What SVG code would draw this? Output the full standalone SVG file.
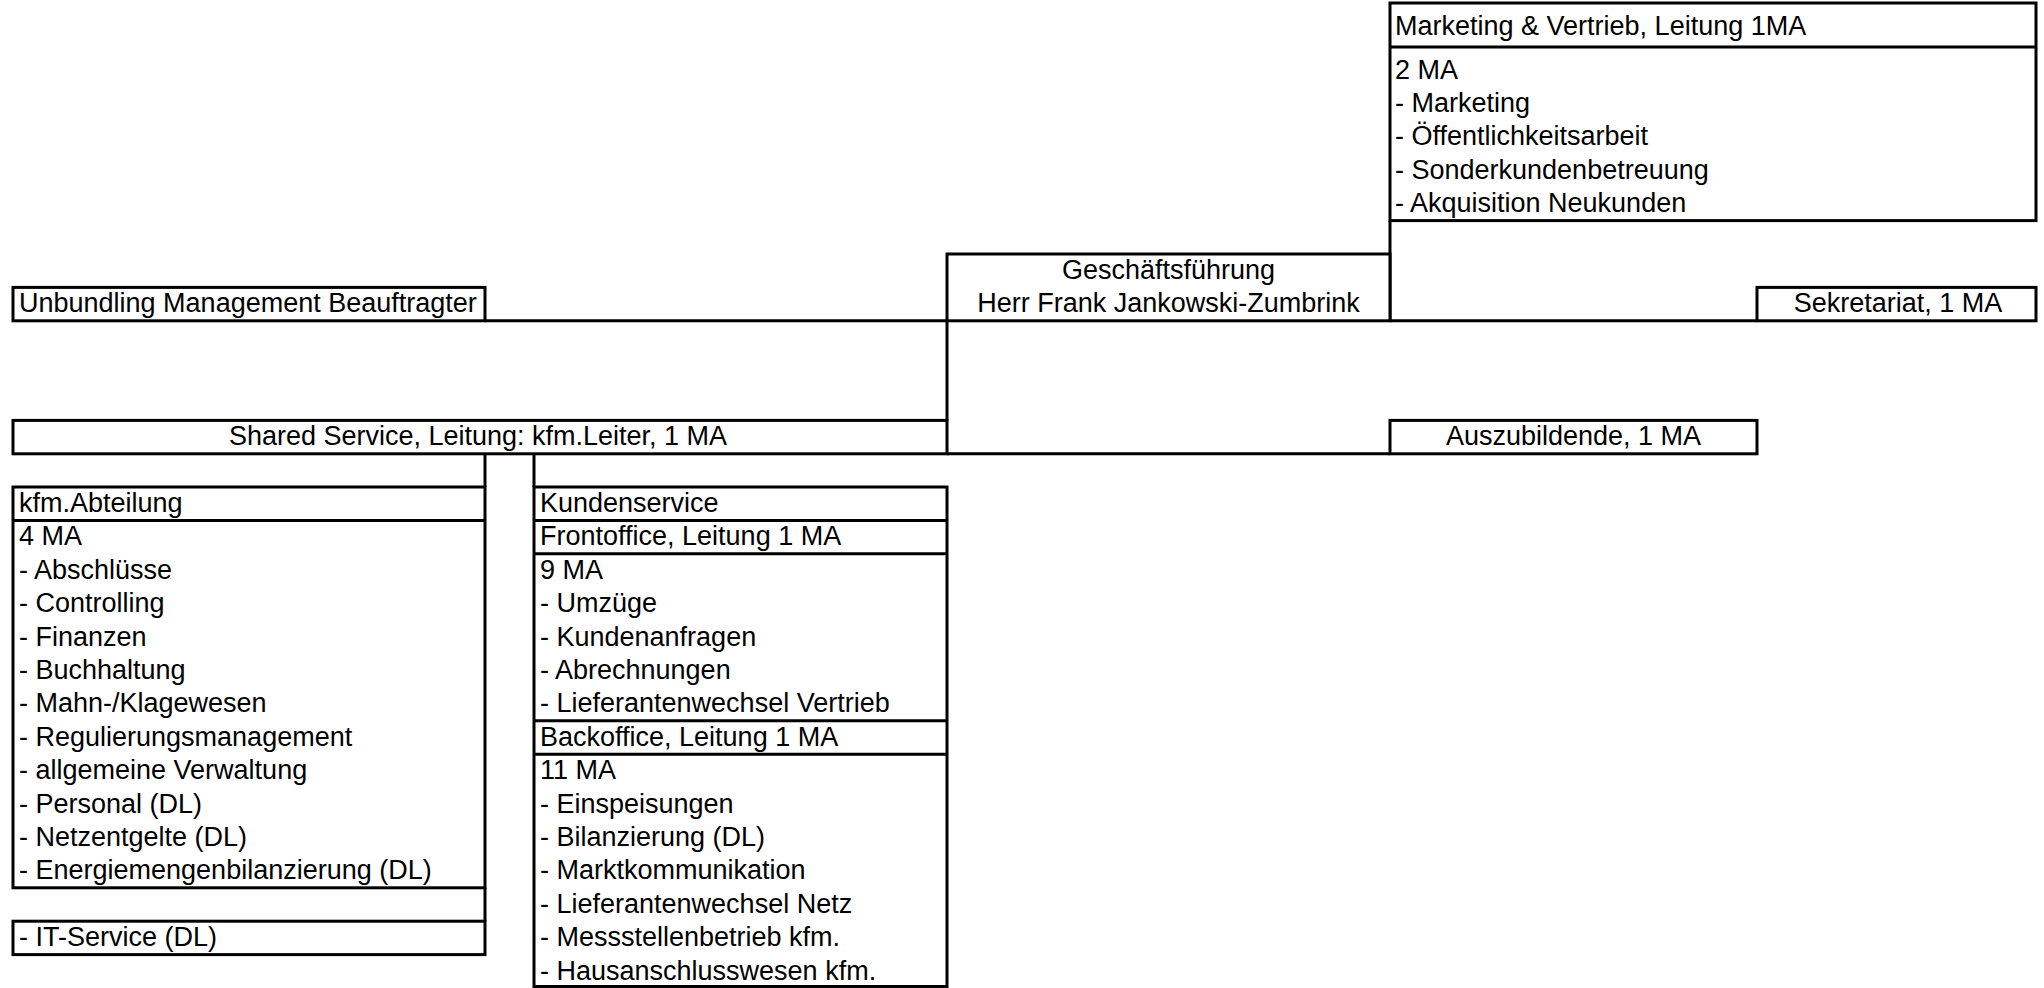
<svg xmlns="http://www.w3.org/2000/svg" width="2044" height="988" viewBox="0 0 2044 988">
<style>
rect.box{fill:#fff;stroke:#000;stroke-width:3}
line.sep{stroke:#000;stroke-width:3}
#connectors line{stroke:#000;stroke-width:3}
text{font-family:"Liberation Sans",Arial,sans-serif;font-size:27px;fill:#000}
text.c{text-anchor:middle}
</style>
<rect width="2044" height="988" fill="#fff"/>
<g id="connectors">
<line x1="485" y1="320.8" x2="947" y2="320.8"/>
<line x1="1390" y1="320.8" x2="1757" y2="320.8"/>
<line x1="947" y1="320.8" x2="947" y2="420.4"/>
<line x1="1390" y1="220.6" x2="1390" y2="320.8"/>
<line x1="947" y1="453.8" x2="1390" y2="453.8"/>
<line x1="485" y1="453.8" x2="485" y2="487"/>
<line x1="534" y1="453.8" x2="534" y2="487"/>
<line x1="485" y1="887.8" x2="485" y2="921.2"/>
</g>
<g id="marketing">
<rect class="box" x="1390" y="3" width="646" height="217.6"/>
<line class="sep" x1="1390" y1="47" x2="2036" y2="47"/>
<text x="1395" y="35">Marketing &amp; Vertrieb, Leitung 1MA</text>
<text x="1395" y="78.6">2 MA</text>
<text x="1395" y="112">- Marketing</text>
<text x="1395" y="145.4">- Öffentlichkeitsarbeit</text>
<text x="1395" y="178.8">- Sonderkundenbetreuung</text>
<text x="1395" y="212.2">- Akquisition Neukunden</text>
</g>
<g id="geschaeftsfuehrung">
<rect class="box" x="947" y="254" width="443" height="66.8"/>
<text class="c" x="1168.5" y="279">Geschäftsführung</text>
<text class="c" x="1168.5" y="312.4">Herr Frank Jankowski-Zumbrink</text>
</g>
<g id="unbundling">
<rect class="box" x="13" y="287.4" width="472" height="33.4"/>
<text x="19" y="312.4">Unbundling Management Beauftragter</text>
</g>
<g id="sekretariat">
<rect class="box" x="1757" y="287.4" width="279" height="33.4"/>
<text class="c" x="1898" y="312.4">Sekretariat, 1 MA</text>
</g>
<g id="shared-service">
<rect class="box" x="13" y="420.4" width="934" height="33.4"/>
<text class="c" x="478" y="445.4">Shared Service, Leitung: kfm.Leiter, 1 MA</text>
</g>
<g id="auszubildende">
<rect class="box" x="1390" y="420.4" width="367" height="33.4"/>
<text class="c" x="1573.5" y="445.4">Auszubildende, 1 MA</text>
</g>
<g id="kfm-abteilung">
<rect class="box" x="13" y="487" width="472" height="400.8"/>
<line class="sep" x1="13" y1="520.4" x2="485" y2="520.4"/>
<text x="19" y="512">kfm.Abteilung</text>
<text x="19" y="545.4">4 MA</text>
<text x="19" y="578.8">- Abschlüsse</text>
<text x="19" y="612.2">- Controlling</text>
<text x="19" y="645.6">- Finanzen</text>
<text x="19" y="679">- Buchhaltung</text>
<text x="19" y="712.4">- Mahn-/Klagewesen</text>
<text x="19" y="745.8">- Regulierungsmanagement</text>
<text x="19" y="779.2">- allgemeine Verwaltung</text>
<text x="19" y="812.6">- Personal (DL)</text>
<text x="19" y="846">- Netzentgelte (DL)</text>
<text x="19" y="879.4">- Energiemengenbilanzierung (DL)</text>
</g>
<g id="it-service">
<rect class="box" x="13" y="921.2" width="472" height="33.4"/>
<text x="19" y="946.2">- IT-Service (DL)</text>
</g>
<g id="kundenservice">
<rect class="box" x="534" y="487" width="413" height="499.5"/>
<line class="sep" x1="534" y1="520.4" x2="947" y2="520.4"/>
<line class="sep" x1="534" y1="553.8" x2="947" y2="553.8"/>
<line class="sep" x1="534" y1="720.8" x2="947" y2="720.8"/>
<line class="sep" x1="534" y1="754.2" x2="947" y2="754.2"/>
<text x="540" y="512">Kundenservice</text>
<text x="540" y="545.4">Frontoffice, Leitung 1 MA</text>
<text x="540" y="578.8">9 MA</text>
<text x="540" y="612.2">- Umzüge</text>
<text x="540" y="645.6">- Kundenanfragen</text>
<text x="540" y="679">- Abrechnungen</text>
<text x="540" y="712.4">- Lieferantenwechsel Vertrieb</text>
<text x="540" y="745.8">Backoffice, Leitung 1 MA</text>
<text x="540" y="779.2">11 MA</text>
<text x="540" y="812.6">- Einspeisungen</text>
<text x="540" y="846">- Bilanzierung (DL)</text>
<text x="540" y="879.4">- Marktkommunikation</text>
<text x="540" y="912.8">- Lieferantenwechsel Netz</text>
<text x="540" y="946.2">- Messstellenbetrieb kfm.</text>
<text x="540" y="979.6">- Hausanschlusswesen kfm.</text>
</g>
</svg>
